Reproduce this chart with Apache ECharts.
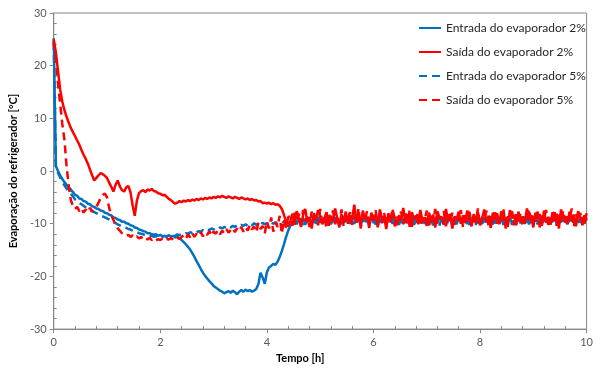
<!DOCTYPE html>
<html>
<head>
<meta charset="utf-8">
<script src="https://cdn.jsdelivr.net/npm/echarts@6/dist/echarts.min.js"></script>
<style>
  html, body { margin: 0; padding: 0; background: #ffffff; }
  #chart { width: 596px; height: 369px; }
</style>
</head>
<body>
<div id="chart"></div>
<script>
// Logged refrigerant temperatures, one reading every SAMPLE_STEP_H hours starting at t = 0.
const SAMPLE_STEP_H = 0.04;

const seriesNames = [
  'Entrada do evaporador 2%',
  'Saída do evaporador 2%',
  'Entrada do evaporador 5%',
  'Saída do evaporador 5%'
];

// Evaporator inlet, 2 %
const entrada2 = [
  25.2, 0.9, 0.0, -0.8, -1.5, -2.1, -2.6, -3.1, -3.5, -4.0,
  -4.5, -4.7, -5.2, -5.3, -5.7, -5.8, -6.2, -6.3, -6.7, -6.8,
  -7.1, -7.2, -7.5, -7.6, -7.9, -8.0, -8.3, -8.4, -8.8, -8.9,
  -9.2, -9.3, -9.6, -9.6, -9.9, -10.0, -10.3, -10.4, -10.7, -10.8,
  -11.1, -11.2, -11.4, -11.5, -11.8, -11.8, -12.0, -12.1, -12.0, -12.3,
  -12.1, -12.4, -12.3, -12.5, -12.2, -12.4, -12.3, -12.6, -12.5, -12.8,
  -13.1, -13.5, -13.9, -14.4, -14.9, -15.6, -16.3, -17.1, -17.8, -18.6,
  -19.3, -19.9, -20.4, -20.9, -21.3, -21.8, -22.1, -22.4, -22.7, -22.9,
  -23.2, -23.0, -22.8, -23.1, -22.7, -23.0, -23.4, -22.9, -22.6, -22.9,
  -22.5, -22.8, -22.6, -22.9, -22.7, -22.4, -21.5, -19.3, -20.2, -21.4,
  -19.2, -18.3, -18.0, -17.6, -17.8, -17.2, -16.3, -15.2, -13.9, -12.5, -11.3, -10.4,
  -9.8, -9.2, -10.1, -8.9, -9.6, -9.0, -10.2, -9.3, -8.8, -9.7,
  -9.1, -10.0, -8.7, -9.5, -9.9, -8.9, -9.4, -10.3, -9.0, -9.6,
  -8.8, -9.8, -9.2, -10.1, -8.9, -9.5, -9.0, -10.0, -9.3, -8.7,
  -9.7, -9.1, -10.2, -8.9, -9.6, -9.2, -9.9, -8.8, -9.4, -10.1,
  -9.0, -9.7, -8.9, -9.5, -10.0, -9.1, -9.6, -8.8, -9.8, -9.3,
  -10.2, -8.9, -9.4, -9.0, -9.9, -9.2, -10.1, -8.7, -9.6, -9.3,
  -9.8, -9.0, -10.0, -8.9, -9.5, -9.2, -10.3, -9.1, -9.7, -8.8,
  -9.4, -10.0, -9.0, -9.6, -8.9, -9.9, -9.3, -10.1, -8.8, -9.5,
  -9.1, -9.8, -9.2, -10.2, -8.9, -9.6, -9.0, -9.9, -9.4, -10.0,
  -8.8, -9.7, -9.1, -9.5, -10.1, -8.9, -9.3, -9.8, -9.0, -10.2,
  -9.2, -9.6, -8.9, -9.9, -9.4, -10.0, -8.7, -9.5, -9.1, -9.8,
  -9.0, -10.1, -9.3, -9.6, -8.8, -9.7, -9.2, -10.0, -8.9, -9.4,
  -9.9, -9.1, -9.6, -8.8, -10.2, -9.3, -9.7, -9.0, -9.5, -10.0,
  -8.9, -9.4, -9.8, -9.1, -9.6, -9.2, -10.1, -8.8, -9.5
];

// Evaporator outlet, 2 %
const saida2 = [
  25.0, 22.5, 19.0, 15.5, 13.2, 11.6, 10.3, 9.2, 8.2, 7.4,
  6.6, 5.8, 5.0, 4.0, 3.1, 2.3, 1.4, 0.3, -0.8, -1.8,
  -1.3, -0.8, -0.4, -0.6, -0.9, -1.3, -2.2, -3.0, -3.9, -2.6,
  -1.8, -2.9, -3.6, -3.9, -3.1, -2.8, -4.0, -6.5, -8.5, -5.6,
  -4.2, -3.8, -3.6, -4.0, -3.5, -3.7, -3.4, -3.8, -3.9, -4.2,
  -4.3, -4.6, -4.5, -4.9, -5.3, -5.5, -5.9, -6.2, -6.0, -5.7,
  -5.9, -5.6, -5.8, -5.5, -5.7, -5.4, -5.6, -5.3, -5.5, -5.2,
  -5.4, -5.1, -5.3, -5.0, -5.2, -4.9, -5.1, -4.8, -5.0, -4.7,
  -4.9, -5.1, -4.8, -5.0, -5.2, -4.9, -5.1, -5.3, -5.0, -5.2,
  -5.4, -5.2, -5.5, -5.3, -5.6, -5.5, -5.8, -5.7, -6.1, -6.0,
  -6.2, -6.0, -6.3, -6.1, -6.4, -6.3, -6.6, -7.2, -8.3, -9.7, -10.5,
  -9.4, -8.1, -10.2, -7.6, -9.0, -10.6, -8.3, -7.2, -9.7, -8.8,
  -10.9, -8.0, -9.3, -7.4, -8.6, -10.1, -9.0, -7.8, -10.4, -8.5,
  -9.6, -7.1, -8.9, -10.7, -8.2, -9.5, -7.7, -10.0, -8.4, -9.2,
  -6.4, -9.8, -8.1, -10.5, -7.5, -9.1, -8.7, -10.8, -7.9, -9.4,
  -8.3, -10.2, -7.3, -9.0, -8.6, -11.0, -8.0, -9.7, -7.6, -8.9,
  -10.3, -8.4, -9.3, -7.0, -9.9, -8.2, -10.6, -7.8, -9.1, -8.5,
  -10.1, -7.4, -9.6, -8.8, -10.4, -7.9, -9.2, -8.3, -10.7, -7.6,
  -9.0, -8.7, -10.2, -7.2, -9.5, -8.1, -10.9, -8.6, -9.3, -7.7,
  -10.0, -8.4, -9.8, -7.5, -9.1, -10.5, -8.2, -9.4, -7.8, -10.3,
  -8.9, -7.3, -9.7, -8.5, -10.8, -7.9, -9.2, -8.0, -10.1, -7.6,
  -9.4, -8.8, -10.6, -7.4, -9.0, -8.3, -10.3, -7.7, -9.6, -8.6,
  -10.0, -7.1, -9.3, -8.4, -10.7, -7.9, -9.1, -8.2, -10.4, -7.5,
  -9.8, -8.7, -10.2, -7.8, -9.5, -8.1, -10.9, -7.3, -9.0, -8.6,
  -10.1, -7.7, -9.4, -8.3, -10.5, -7.6, -9.2, -8.8, -10.0, -8.0
];

// Evaporator inlet, 5 %
const entrada5 = [
  24.5, 1.0, -0.3, -1.2, -2.0, -2.7, -3.3, -3.9, -4.3, -4.8,
  -5.4, -5.7, -6.1, -6.3, -6.6, -6.9, -7.1, -7.4, -7.6, -7.8,
  -8.0, -8.2, -8.4, -8.6, -8.8, -9.0, -9.2, -9.5, -9.7, -9.9,
  -10.1, -10.3, -10.5, -10.6, -10.8, -11.0, -11.1, -11.3, -11.5, -11.6,
  -11.8, -11.9, -12.0, -12.2, -12.2, -12.4, -12.3, -12.5, -12.4, -12.5,
  -12.4, -12.5, -12.3, -12.4, -12.2, -12.3, -12.1, -12.3, -12.0, -12.2,
  -11.9, -12.0, -11.8, -11.9, -11.6, -11.8, -11.5, -11.7, -11.4, -11.5,
  -11.2, -11.4, -11.1, -11.2, -10.9, -11.1, -10.8, -11.0, -10.7, -10.9,
  -10.6, -10.8, -10.5, -10.7, -10.4, -10.6, -10.3, -10.5, -10.2, -10.4,
  -10.1, -10.4, -10.0, -10.3, -9.9, -10.2, -10.0, -10.3, -9.8, -10.1,
  -9.9, -10.2, -9.8, -10.0, -9.7, -10.1, -9.8, -9.9, -9.6, -10.0,
  -9.7, -9.8, -9.5,
  -9.3, -9.9, -8.8, -9.6, -10.2, -9.1, -9.7, -8.9, -10.0, -9.4,
  -9.0, -9.8, -9.2, -10.3, -8.9, -9.5, -9.1, -10.1, -9.3, -8.8,
  -9.7, -9.0, -9.9, -9.4, -10.2, -8.9, -9.6, -9.2, -10.0, -9.1,
  -8.8, -9.7, -9.3, -10.1, -9.0, -9.5, -8.9, -9.8, -9.2, -10.2,
  -9.4, -9.0, -9.9, -8.8, -9.6, -9.3, -10.0, -9.1, -9.7, -8.9,
  -10.1, -9.2, -9.5, -9.0, -9.8, -8.9, -10.2, -9.4, -9.6, -9.1,
  -9.9, -8.8, -9.7, -9.3, -10.0, -9.0, -9.5, -9.2, -10.3, -8.9,
  -9.6, -9.1, -9.8, -9.4, -10.1, -8.8, -9.7, -9.0, -9.9, -9.3,
  -9.5, -10.0, -8.9, -9.6, -9.2, -10.2, -9.0, -9.8, -9.1, -9.4,
  -10.0, -8.8, -9.7, -9.3, -9.9, -9.1, -10.1, -8.9, -9.5, -9.2,
  -9.8, -9.0, -10.2, -9.4, -9.6, -8.9, -9.9, -9.2, -10.0, -9.1,
  -9.7, -8.8, -9.5, -9.3, -10.1, -9.0, -9.8, -9.2, -9.6, -8.9,
  -10.0, -9.4, -9.7, -9.1, -9.9, -8.8, -9.5, -9.3, -10.2, -9.0,
  -9.6, -9.2, -9.8, -9.4, -10.0, -9.1, -9.5, -8.9
];

// Evaporator outlet, 5 %
const saida5 = [
  24.5, 21.5, 16.5, 12.8, 9.0, 6.0, 1.0, -2.8, -5.5, -6.6,
  -7.2, -6.8, -7.6, -7.1, -7.9, -7.3, -7.8, -7.0, -7.7, -7.2,
  -6.8, -6.0, -5.1, -4.5, -4.3, -5.0, -7.0, -8.4, -9.3, -10.2,
  -10.9, -11.3, -11.8, -12.0, -12.3, -12.1, -12.5, -12.2, -12.7, -12.4,
  -12.8, -12.5, -12.9, -12.6, -13.0, -12.7, -13.1, -12.8, -13.2, -12.9,
  -13.1, -12.8, -13.2, -12.9, -13.0, -12.7, -13.1, -12.8, -12.6, -12.9, -12.5,
  -12.2, -12.8, -12.0, -12.6, -11.8, -12.5, -11.9, -12.3, -11.6, -12.4,
  -11.7, -12.1, -11.4, -12.3, -11.5, -11.9, -11.2, -12.0, -11.3, -11.8,
  -11.0, -11.7, -11.2, -10.8, -11.6, -10.9, -11.4, -10.6, -11.5, -10.7,
  -11.3, -10.2, -11.1, -10.5, -11.6, -9.8, -11.0, -10.4, -11.8, -9.6,
  -10.9, -8.8, -11.5, -9.7, -10.6, -8.5, -11.9, -9.2, -10.8, -8.7,
  -8.6, -10.4, -7.9, -9.2, -8.1, -10.0, -7.4, -9.5, -8.7, -10.6,
  -7.7, -9.1, -8.4, -10.3, -7.2, -9.8, -8.9, -10.8, -8.0, -9.3,
  -7.5, -10.1, -8.6, -9.7, -7.3, -10.5, -8.2, -9.0, -7.8, -10.2,
  -8.5, -9.6, -7.0, -10.9, -8.3, -9.4, -7.6, -10.0, -8.8, -9.1,
  -7.4, -10.7, -8.1, -9.9, -7.9, -10.3, -8.5, -9.2, -7.1, -10.5,
  -8.7, -9.5, -7.7, -10.1, -8.0, -9.7, -7.3, -10.6, -8.4, -9.0,
  -7.8, -10.4, -8.9, -9.3, -7.5, -10.8, -8.2, -9.6, -7.2, -10.0,
  -8.6, -9.1, -7.6, -10.5, -8.3, -9.8, -7.9, -10.2, -8.7, -9.4,
  -7.4, -10.7, -8.0, -9.5, -7.7, -10.1, -8.5, -9.9, -7.1, -10.4,
  -8.8, -9.2, -7.5, -10.6, -8.1, -9.7, -7.8, -10.0, -8.4, -9.3,
  -7.3, -10.9, -8.6, -9.0, -7.6, -10.3, -8.2, -9.8, -7.9, -10.5,
  -8.7, -9.4, -7.2, -10.1, -8.0, -9.6, -7.7, -10.7, -8.5, -9.1,
  -7.4, -10.2, -8.9, -9.5, -7.8, -10.4, -8.3, -9.9, -7.5, -10.0,
  -8.6, -9.3, -7.1, -10.6, -8.1, -9.7, -7.9, -10.3, -8.4, -9.2
];

const BLUE = '#0070C0';
const RED = '#FF0000';
const AXIS_GRAY = '#868686';
const FONT = 'Lato, "Liberation Sans", sans-serif';

// Pair each reading with its sampling time in hours.
function withTime(values) {
  return values.map((v, i) => [Math.round(i * SAMPLE_STEP_H * 100) / 100, v]);
}

function lineSeries(name, values, color, dashed, z) {
  return {
    name: name,
    type: 'line',
    data: withTime(values),
    symbol: 'none',
    showSymbol: false,
    silent: true,
    z: z,
    lineStyle: { color: color, width: 2.5, type: dashed ? [8, 5] : 'solid' },
    itemStyle: { color: color },
    emphasis: { disabled: true }
  };
}

const chart = echarts.init(document.getElementById('chart'), null, { renderer: 'canvas' });

chart.setOption({
  animation: false,
  backgroundColor: '#ffffff',
  grid: {
    left: 48, right: 7, top: 13, bottom: 37,
    show: true, borderColor: AXIS_GRAY, borderWidth: 1, backgroundColor: 'transparent'
  },
  legend: {
    orient: 'vertical',
    left: 413,
    top: 16,
    itemWidth: 22,
    itemHeight: 14,
    itemGap: 10,
    data: seriesNames,
    itemStyle: { opacity: 0, borderWidth: 0 },
    textStyle: { fontFamily: FONT, fontSize: 12, color: '#262626', lineHeight: 14 }
  },
  xAxis: {
    type: 'value',
    min: 0, max: 10, interval: 2,
    name: 'Tempo [h]',
    nameLocation: 'middle',
    nameGap: 23,
    nameTextStyle: { fontFamily: FONT, fontSize: 11, fontWeight: 'bold', color: '#000000', padding: [0, 40, 0, 0] },
    axisLine: { onZero: false, lineStyle: { color: AXIS_GRAY, width: 1 } },
    axisTick: { show: true, length: 4, lineStyle: { color: AXIS_GRAY } },
    minorTick: { show: true, splitNumber: 5, length: -3, lineStyle: { color: AXIS_GRAY } },
    splitLine: { show: false },
    axisLabel: { margin: 8, fontFamily: FONT, fontSize: 11, color: '#595959' }
  },
  yAxis: {
    type: 'value',
    min: -30, max: 30, interval: 10,
    name: 'Evaporação do refrigerador [°C]',
    nameLocation: 'middle',
    nameGap: 28,
    nameRotate: 90,
    nameTextStyle: { fontFamily: FONT, fontSize: 11, fontWeight: 'bold', color: '#000000' },
    axisLine: { show: true, onZero: false, lineStyle: { color: AXIS_GRAY, width: 1 } },
    axisTick: { show: true, length: 4, lineStyle: { color: AXIS_GRAY } },
    minorTick: { show: true, splitNumber: 5, length: -3, lineStyle: { color: AXIS_GRAY } },
    splitLine: { show: false },
    axisLabel: { margin: 7, fontFamily: FONT, fontSize: 11, color: '#595959' }
  },
  series: [
    lineSeries(seriesNames[0], entrada2, BLUE, false, 2),
    lineSeries(seriesNames[1], saida2, RED, false, 4),
    lineSeries(seriesNames[2], entrada5, BLUE, true, 3),
    lineSeries(seriesNames[3], saida5, RED, true, 5)
  ]
});
</script>
</body>
</html>
